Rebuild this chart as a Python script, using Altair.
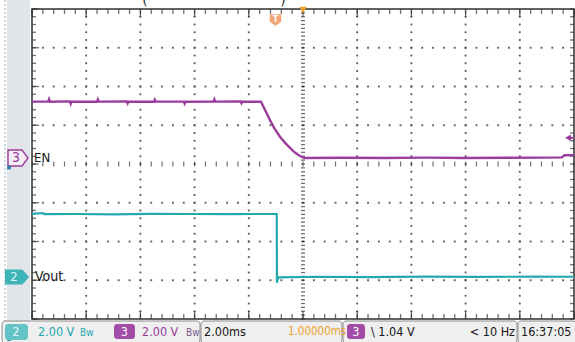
import altair as alt
import numpy as np
import pandas as pd

# Captured waveforms: time in ms (trigger at 0), level in volts
en_time = [-10.0,
           -9.4, -9.37, -9.34, -8.6, -8.57, -8.54, -7.6, -7.57, -7.54,
           -6.5, -6.47, -6.44, -5.5, -5.47, -5.44, -4.4, -4.37, -4.34,
           -3.3, -3.27, -3.24, -2.3, -2.27, -2.24,
           -1.55, -1.45, -1.35, -1.22, -1.05, -0.85, -0.66, -0.48, -0.30, -0.11, 0.05,
           1.5, 3.0, 4.5, 6.0, 7.5, 8.9, 9.55, 9.65, 10.0]
en_volts = [2.91,
            2.91, 3.03, 2.90, 2.92, 2.80, 2.91, 2.90, 3.02, 2.91,
            2.92, 2.82, 2.91, 2.90, 3.00, 2.92, 2.91, 2.81, 2.90,
            2.91, 3.02, 2.91, 2.92, 2.83, 2.91,
            2.90, 2.62, 2.33, 1.96, 1.52, 1.10, 0.78, 0.52, 0.28, 0.10, 0.00,
            0.01, 0.00, 0.02, 0.00, 0.01, 0.02, 0.03, 0.14, 0.15]

vout_time = [-10.0, -9.6, -9.55, -8.4, -7.0, -5.6, -4.2, -2.8, -1.6, -0.97,
             -0.96, -0.92, 0.5, 2.5, 4.5, 6.5, 8.5, 10.0]
vout_volts = [3.26, 3.30, 3.24, 3.25, 3.23, 3.26, 3.25, 3.24, 3.25, 3.25,
              -0.30, -0.02, 0.01, -0.01, 0.02, 0.00, 0.02, 0.01]

# Scope settings
VOLTS_PER_DIV = 2.0       # ch2 and ch3 at 2.00 V/div
EN_GROUND_DIV = 4.155     # ch3 ground marker, divisions above the bottom edge
VOUT_GROUND_DIV = 1.085   # ch2 ground marker
TRIGGER_LEVEL = 1.04      # falling-edge trigger on ch3

W, H = 542, 310
FONT = "DejaVu Sans Condensed, Liberation Sans Narrow, Liberation Sans, sans-serif"
PURPLE = "#9c3c9e"
CYAN = "#22a9ae"
ORANGE = "#eea028"
DOT = "#4a4a4a"

xs = alt.Scale(domain=[-10, 10], nice=False, zero=False)
ys = alt.Scale(domain=[0, 8], nice=False, zero=False)

en = pd.DataFrame({"t": en_time, "v": en_volts})
en["pos"] = EN_GROUND_DIV + en["v"] / VOLTS_PER_DIV
en["i"] = range(len(en))
vout = pd.DataFrame({"t": vout_time, "v": vout_volts})
vout["pos"] = VOUT_GROUND_DIV + vout["v"] / VOLTS_PER_DIV
vout["i"] = range(len(vout))
trig_pos = EN_GROUND_DIV + TRIGGER_LEVEL / VOLTS_PER_DIV

# Graticule positions (10 x 8 divisions, 5 minor steps per division)
minor_t = np.round(np.arange(-10, 10.001, 0.4), 2)
minor_d = np.round(np.arange(0, 8.001, 0.2), 2)
fine_d = np.round(np.arange(0, 8.001, 0.1), 2)
major_t = [-8, -6, -4, -2, 2, 4, 6, 8]
major_d = [1, 2, 3, 5, 6, 7]

dots = pd.concat([
    pd.DataFrame([(t, d) for t in major_t for d in minor_d[1:-1]], columns=["t", "pos"]),
    pd.DataFrame([(t, d) for d in major_d for t in minor_t[1:-1]], columns=["t", "pos"]),
])
xt = pd.DataFrame({"t": minor_t})
xt_major = pd.DataFrame({"t": [-10, -8, -6, -4, -2, 0, 2, 4, 6, 8, 10]})
yt = pd.DataFrame({"pos": minor_d})
yt_major = pd.DataFrame({"pos": [0, 1, 2, 3, 4, 5, 6, 7, 8]})
yfine = pd.DataFrame({"pos": fine_d})

one = pd.DataFrame({"k": [0]})


def label(text, x, y, color="#151515", size=12.5, align="left", weight="normal"):
    return alt.Chart(one).mark_text(
        text=text, align=align, baseline="middle", fontSize=size,
        color=color, font=FONT, fontWeight=weight,
    ).encode(x=alt.value(x), y=alt.value(y))


def box(x1, x2, y1, y2, fill, stroke=None, radius=0, sw=1.0):
    kw = dict(fill=fill, cornerRadius=radius)
    if stroke:
        kw.update(stroke=stroke, strokeWidth=sw)
    return alt.Chart(one).mark_rect(**kw).encode(
        x=alt.value(x1), x2=alt.value(x2), y=alt.value(y1), y2=alt.value(y2))


# Side strip and status bar
left_strip = box(-25, -2, -9, 313, "#e1e5ea")
left_dotted = alt.Chart(one).mark_rule(color="#9fb0c4", strokeDash=[2, 2], strokeWidth=1).encode(
    x=alt.value(-27), y=alt.value(-9), y2=alt.value(333))
bar = [
    box(-30, 168, 312, 334, "#efefef", "#8c8c8c", 3),
    box(169, 310, 312, 334, "#efefef", "#8c8c8c", 3),
    box(311, 485, 312, 334, "#efefef", "#8c8c8c", 3),
    box(486, 544, 312, 334, "#efefef", "#8c8c8c", 3),
]

# Graticule
grid_dots = alt.Chart(dots).mark_square(size=3.5, color=DOT, opacity=0.9).encode(
    x=alt.X("t:Q", scale=xs, axis=None), y=alt.Y("pos:Q", scale=ys, axis=None))
center_v = alt.Chart(yfine).mark_tick(orient="horizontal", size=4, thickness=1.3, color="#333").encode(
    x=alt.XDatum(0, axis=None), y=alt.Y("pos:Q", scale=ys, axis=None))
center_h = alt.Chart(xt).mark_tick(orient="vertical", size=5, thickness=1.2, color="#333").encode(
    x=alt.X("t:Q", scale=xs, axis=None), y=alt.YDatum(4, axis=None))
top_ticks = alt.Chart(xt).mark_tick(orient="vertical", size=5, thickness=1.3, color="#333").encode(
    x=alt.X("t:Q", scale=xs, axis=None), y=alt.value(2.5))
top_major = alt.Chart(xt_major).mark_tick(orient="vertical", size=8, thickness=1.3, color="#333").encode(
    x=alt.X("t:Q", scale=xs, axis=None), y=alt.value(4))
bot_ticks = alt.Chart(xt).mark_tick(orient="vertical", size=5, thickness=1.3, color="#333").encode(
    x=alt.X("t:Q", scale=xs, axis=None), y=alt.value(H - 2.5))
bot_major = alt.Chart(xt_major).mark_tick(orient="vertical", size=8, thickness=1.3, color="#333").encode(
    x=alt.X("t:Q", scale=xs, axis=None), y=alt.value(H - 4))
left_ticks = alt.Chart(yt).mark_tick(orient="horizontal", size=4, thickness=1.3, color="#333").encode(
    x=alt.value(2), y=alt.Y("pos:Q", scale=ys, axis=None))
left_major = alt.Chart(yt_major).mark_tick(orient="horizontal", size=7, thickness=1.3, color="#333").encode(
    x=alt.value(3.5), y=alt.Y("pos:Q", scale=ys, axis=None))
right_ticks = alt.Chart(yt).mark_tick(orient="horizontal", size=4, thickness=1.3, color="#333").encode(
    x=alt.value(W - 2), y=alt.Y("pos:Q", scale=ys, axis=None))

# Traces
en_line = alt.Chart(en).mark_line(color=PURPLE, strokeWidth=2.4).encode(
    x=alt.X("t:Q", scale=xs, axis=None), y=alt.Y("pos:Q", scale=ys, axis=None), order="i:Q")
vout_line = alt.Chart(vout).mark_line(color=CYAN, strokeWidth=2.2).encode(
    x=alt.X("t:Q", scale=xs, axis=None), y=alt.Y("pos:Q", scale=ys, axis=None), order="i:Q")

# Channel ground markers
tag_path = "M-1,-0.8L0.4,-0.8L1,0L0.4,0.8L-1,0.8Z"
en_tag = alt.Chart(one).mark_point(shape=tag_path, size=400, filled=True, fill="#f6eef6",
                                   stroke=PURPLE, strokeWidth=1.4, opacity=1).encode(
    x=alt.value(-14), y=alt.YDatum(EN_GROUND_DIV, axis=None))
vout_tag = alt.Chart(one).mark_point(shape="M-1,-0.62L0.45,-0.62L1,0L0.45,0.62L-1,0.62Z", size=576,
                                     filled=True, fill="#3fb4b8", opacity=1).encode(
    x=alt.value(-15), y=alt.YDatum(VOUT_GROUND_DIV, axis=None))
en_num = alt.Chart(one).mark_text(text="3", fontSize=14, font=FONT, color=PURPLE, baseline="middle").encode(
    x=alt.value(-16), y=alt.YDatum(EN_GROUND_DIV, axis=None))
vout_num = alt.Chart(one).mark_text(text="2", fontSize=13, font=FONT, color="#dff6f6", baseline="middle").encode(
    x=alt.value(-18), y=alt.YDatum(VOUT_GROUND_DIV, axis=None))
en_name = alt.Chart(one).mark_text(text="EN", fontSize=13, font=FONT, color="#151515", align="left",
                                   baseline="middle").encode(
    x=alt.value(2), y=alt.YDatum(EN_GROUND_DIV, axis=None))
vout_name = alt.Chart(one).mark_text(text="Vout", fontSize=14, font=FONT, color="#151515", align="left",
                                     baseline="middle").encode(
    x=alt.value(3), y=alt.YDatum(VOUT_GROUND_DIV, axis=None))
teal_sq = alt.Chart(pd.DataFrame({"y": [158.5, 330]})).mark_square(size=14, color="#2a7aa0", opacity=1).encode(
    x=alt.value(-23), y=alt.Y("y:Q", scale=None))

# Trigger markers
trig_time = alt.Chart(one).mark_point(shape="triangle-down", size=55, filled=True, color=ORANGE, opacity=1).encode(
    x=alt.XDatum(0, axis=None), y=alt.value(1))
trig_tag = alt.Chart(one).mark_point(shape="M-1,-1L1,-1L1,0.3L0,1L-1,0.3Z", size=130, filled=True,
                                     fill="#f4a374", opacity=1).encode(x=alt.value(243.5), y=alt.value(11))
trig_t = alt.Chart(one).mark_text(text="T", fontSize=8, fontWeight="bold", color="white", font="DejaVu Sans",
                                  baseline="middle").encode(x=alt.value(243.5), y=alt.value(10.5))
trig_lvl = alt.Chart(one).mark_point(shape="triangle-left", size=45, filled=True, color=PURPLE, opacity=1).encode(
    x=alt.value(536), y=alt.YDatum(trig_pos, axis=None))
trig_lvl_stem = alt.Chart(one).mark_rule(color=PURPLE, strokeWidth=2).encode(
    x=alt.value(537), x2=alt.value(542), y=alt.YDatum(trig_pos, axis=None))

# Title fragments above the screen
paren_l = alt.Chart(one).mark_text(text="(", fontSize=14, font="DejaVu Sans", color="#333").encode(
    x=alt.value(113), y=alt.value(-8))
paren_r = alt.Chart(one).mark_text(text=")", fontSize=14, font="DejaVu Sans", color="#333").encode(
    x=alt.value(251), y=alt.value(-8))

# Status bar readouts
status = [
    box(-27, -4, 315, 331, "#63c3c6", radius=3),
    label("2", -16, 323, "#e8f8f8", 12, "center"),
    label("2.00 V", 6, 323, CYAN),
    label("Bw", 48, 324, CYAN, 10),
    box(82, 103, 315, 330, "#a24ca8", radius=3),
    label("3", 92.5, 322.5, "white", 12, "center"),
    label("2.00 V", 110, 323, PURPLE),
    label("Bw", 154, 324, "#7a5a86", 10),
    label("2.00ms", 172, 323),
    label("1.00000ms", 256, 323, ORANGE, 11.5),
    box(315, 333, 315, 330, "#a24ca8", radius=3),
    label("3", 324, 322.5, "white", 12, "center"),
    label("\\ 1.04 V", 339, 323),
    label("< 10 Hz", 483, 323, align="right"),
    label("16:37:05", 489, 323),
]

chart = alt.layer(
    left_strip, left_dotted, *bar,
    grid_dots, center_v, center_h,
    top_ticks, top_major, bot_ticks, bot_major, left_ticks, left_major, right_ticks,
    en_line, vout_line,
    en_tag, vout_tag, en_num, vout_num, en_name, vout_name, teal_sq,
    trig_time, trig_tag, trig_t, trig_lvl, trig_lvl_stem,
    paren_l, paren_r,
    *status,
).properties(
    width=W, height=H,
    autosize=alt.AutoSizeParams(type="none"),
    padding={"left": 32, "top": 9, "right": 1, "bottom": 23},
    background="white",
).configure_view(stroke="#2e2e2e", strokeWidth=1.5)

chart.save("out.html", embed_options={"renderer": "svg", "actions": False})
